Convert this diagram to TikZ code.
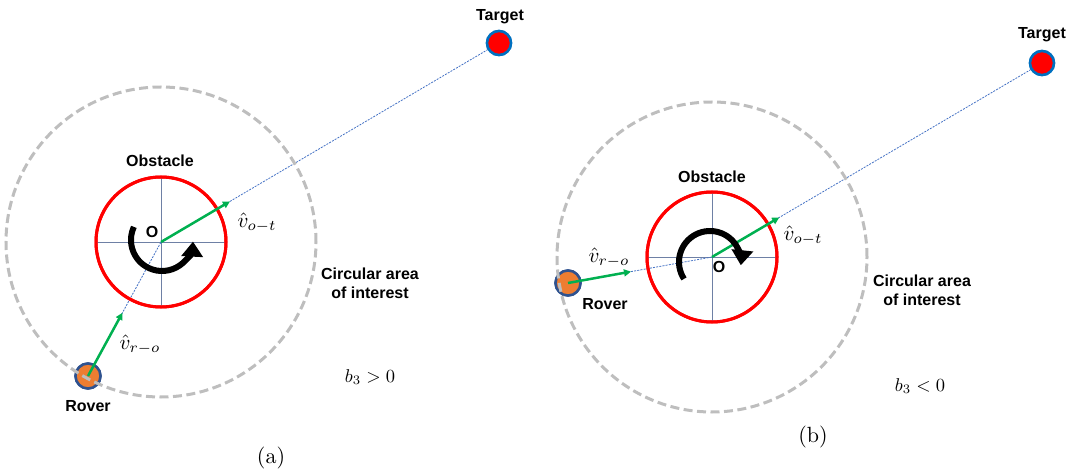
\documentclass[tikz,border=0pt]{standalone}
\usepackage{fontspec}
\newfontfamily\labf{Liberation Sans}
\usetikzlibrary{arrows.meta,calc}
\definecolor{vgreen}{RGB}{0,176,80}
\definecolor{lblue}{RGB}{68,114,196}
\definecolor{aoigray}{RGB}{190,190,190}
\definecolor{crossc}{RGB}{110,128,165}
\definecolor{roverfill}{RGB}{237,125,49}
\definecolor{roverdraw}{RGB}{47,82,143}
\definecolor{tgtdraw}{RGB}{0,112,192}
\tikzset{
  obst/.style={circle,draw=red,line width=3pt,minimum size=130pt,inner sep=0pt},
  aoi/.style={circle,draw=aoigray,line width=3pt,dash pattern=on 9pt off 4.5pt,minimum size=310pt,inner sep=0pt},
  rover/.style={circle,draw=roverdraw,fill=roverfill,line width=2.5pt,minimum size=25pt,inner sep=0pt},
  tgt/.style={circle,draw=tgtdraw,fill=red,line width=2.5pt,minimum size=24pt,inner sep=0pt},
  guide/.style={lblue,line width=0.8pt,dash pattern=on 2pt off 1.2pt},
  crossl/.style={crossc,line width=0.8pt},
  vec/.style={vgreen,line width=2.5pt,-{Triangle[width=7pt,length=7pt]}},
  rot/.style={black,line width=6pt,-{Triangle[width=21pt,length=15pt]}},
  lbl/.style={font=\labf\bfseries\fontsize{16}{19}\selectfont,inner sep=0pt},
  mlbl/.style={inner sep=0pt,scale=2.1,transform shape},
  blbl/.style={inner sep=0pt,scale=1.85,transform shape},
  captxt/.style={inner sep=0pt,scale=2.2,transform shape}
}
\begin{document}
\begin{tikzpicture}[x=1pt,y=1pt]
\useasboundingbox (0,0) rectangle (1072,475);
% ---------------- panel (a) ----------------
\node[obst] (obsA) at (161,233) {};
\node[tgt] (tgtA) at (499,432) {};
\node[rover] (rovA) at (88,99) {};
\coordinate (cAl) at (96,233);
\coordinate (cAr) at (226,233);
\coordinate (cAt) at (161,298);
\coordinate (cAb) at (161,168);
\coordinate (rotA) at (162,235);
\draw[crossl] (cAl) -- (cAr);
\draw[crossl] (cAt) -- (cAb);
\draw[guide] (obsA.center) -- (tgtA.center);
\draw[guide] (rovA.center) -- (obsA.center);
\node[obst] at (obsA.center) {};
\node[rover] at (rovA.center) {};
\node[aoi] (aoiA) at (161,233) {};
\node[tgt] at (tgtA.center) {};
\draw[vec] (obsA.center) -- ($(obsA.center)!80pt!(tgtA.center)$);
\draw[vec] (rovA.center) -- ($(rovA.center)!72pt!(obsA.center)$);
\draw[rot] ($(rotA)+(155:31)$) arc[start angle=155,end angle=357,radius=31];
\node[lbl] (tA) at (500,458) {Target};
\node[lbl] (oA) at (160,314) {Obstacle};
\node[lbl] (OA) at (152,243) {O};
\node[lbl] (rA) at (88,69) {Rover};
\node[lbl,align=center] (ciA) at (370,192) {Circular area\\of interest};
\node[mlbl] (vOA) at (257,252) {$\hat{v}_{o-t}$};
\node[mlbl] (vRA) at (140,130) {$\hat{v}_{r-o}$};
\node[blbl] (bA) at (370,98) {$b_3>0$};
\node[captxt] (capA) at (271,17) {(a)};
% ---------------- panel (b) ----------------
\node[obst] (obsB) at (712,218) {};
\node[tgt] (tgtB) at (1042,412) {};
\node[rover] (rovB) at (568,192) {};
\coordinate (cBl) at (648,218);
\coordinate (cBr) at (776,218);
\coordinate (cBt) at (712,282);
\coordinate (cBb) at (712,154);
\coordinate (rotB) at (710,213);
\draw[crossl] (cBl) -- (cBr);
\draw[crossl] (cBt) -- (cBb);
\draw[guide] (obsB.center) -- (tgtB.center);
\draw[guide] (rovB.center) -- (obsB.center);
\node[obst] at (obsB.center) {};
\node[rover] at (rovB.center) {};
\node[aoi] (aoiB) at (712,218) {};
\node[tgt] at (tgtB.center) {};
\draw[vec] (obsB.center) -- ($(obsB.center)!78pt!(tgtB.center)$);
\draw[vec] (rovB.center) -- ($(rovB.center)!64pt!(obsB.center)$);
\draw[rot] ($(rotB)+(213:31)$) arc[start angle=213,end angle=-6,radius=31];
\node[lbl] (tB) at (1042,440) {Target};
\node[lbl] (oB) at (712,298) {Obstacle};
\node[lbl] (OB) at (719,208) {O};
\node[lbl] (rB) at (605,171) {Rover};
\node[lbl,align=center] (ciB) at (922,185) {Circular area\\of interest};
\node[mlbl] (vOB) at (803,239) {$\hat{v}_{o-t}$};
\node[mlbl] (vRB) at (609,217) {$\hat{v}_{r-o}$};
\node[blbl] (bB) at (920,89) {$b_3<0$};
\node[captxt] (capB) at (813,38) {(b)};
\end{tikzpicture}
\end{document}
